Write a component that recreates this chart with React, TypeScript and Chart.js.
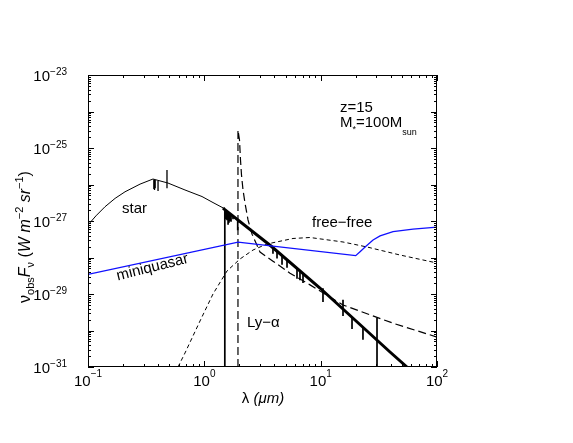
import React, { useEffect, useRef } from "react";
import { Chart, registerables } from "chart.js";

Chart.register(...registerables);

const FONT = '"Liberation Sans", Arial, Helvetica, sans-serif';

// Axis ranges and tick labels
const xDecades = [0.1, 1, 10, 100];
const xTickExp = ["\u22121", "0", "1", "2"];
const yLabelExp = [-23, -25, -27, -29, -31];

// Star continuum (thin solid) : wavelength (µm), log10 flux
const starLambda = [0.1, 0.117, 0.14, 0.171, 0.208, 0.28, 0.362, 0.487, 0.682, 0.955, 1.164, 1.447];
const starLogF = [-27.11, -26.86, -26.61, -26.38, -26.2, -25.99, -25.85, -25.96, -26.15, -26.33, -26.48, -26.64];
// small absorption features on the star curve
const starSpikeLambda = [0.368, 0.373, 0.378, 0.4, 0.4775];
const starSpikeTop = [-25.86, -25.87, -25.88, -25.9, -25.6];
const starSpikeBottom = [-26.12, -26.15, -26.1, -26.18, -26.1];

// Thick solid line (redshifted spectrum)
const thickLambda = [1.447, 1.5, 3.74, 9.86, 39.45, 55.2];
const thickLogF = [-26.644, -26.687, -27.685, -28.836, -30.589, -31.0];
// vertical features on the thick line
const spikeLambda = [1.5, 1.53, 1.566, 1.6, 1.63, 1.66, 1.696, 1.764, 1.936, 3.89, 4.215, 4.654, 5.137, 6.26, 6.64, 7.05, 10.47, 15.56, 18.6, 23.1, 30.5];
const spikeTop = [-26.687, -26.7, -26.73, -26.75, -26.775, -26.8, -26.82, -26.86, -26.96, -27.73, -27.82, -27.94, -28.06, -28.29, -28.36, -28.43, -28.84, -29.16, -29.64, -29.91, -29.66];
const spikeBottom = [-31, -26.95, -26.98, -27.1, -27.05, -27.0, -27.02, -26.95, -27.25, -27.9, -28.03, -28.2, -28.28, -28.58, -28.62, -28.7, -29.22, -29.6, -29.96, -30.25, -31];

// Ly-alpha line (long dashes)
const lyaLambda = [1.946, 1.946, 2.006, 2.046, 2.087, 2.15, 2.237, 2.374, 2.57, 3.01, 3.89, 5.45, 8.1, 15.56, 41.9, 100];
const lyaLogF = [-31, -24.51, -24.78, -25.33, -25.74, -26.15, -26.51, -26.97, -27.36, -27.85, -28.1, -28.43, -28.75, -29.3, -29.8, -30.18];

// Free-free (short dashes)
const ffLambda = [0.594, 0.682, 0.918, 1.187, 1.566, 2.026, 2.621, 3.457, 5.783, 8.1, 15.56, 25.03, 48.1, 100];
const ffLogF = [-31.0, -30.616, -29.74, -29.0, -28.37, -28.041, -27.795, -27.63, -27.479, -27.452, -27.575, -27.712, -27.932, -28.151];

// Miniquasar (blue)
const mqLambda = [0.1, 1.95, 20, 21.8, 24.5, 28.2, 32.4, 41.9, 62.2, 100];
const mqLogF = [-28.46, -27.58, -27.95, -27.84, -27.69, -27.52, -27.41, -27.29, -27.22, -27.17];

function pts(l: number[], f: number[]) {
  return l.map((x, i) => ({ x, y: Math.pow(10, f[i]) }));
}
function spikes(l: number[], top: number[], bot: number[]) {
  const out: any[] = [];
  l.forEach((x, i) => {
    out.push({ x, y: Math.pow(10, top[i]) }, { x, y: Math.pow(10, bot[i]) }, { x, y: null });
  });
  return out;
}

type Seg = { t: string; size: number; dy?: number; italic?: boolean };

function richWidth(ctx: CanvasRenderingContext2D, segs: Seg[]) {
  let w = 0;
  for (const s of segs) {
    ctx.font = `${s.italic ? "italic " : ""}${s.size}px ${FONT}`;
    w += ctx.measureText(s.t).width;
  }
  return w;
}
function drawRich(ctx: CanvasRenderingContext2D, segs: Seg[], x: number, y: number, align: "left" | "center" | "right") {
  const w = richWidth(ctx, segs);
  let cx = align === "left" ? x : align === "center" ? x - w / 2 : x - w;
  ctx.textAlign = "left";
  ctx.textBaseline = "alphabetic";
  for (const s of segs) {
    ctx.font = `${s.italic ? "italic " : ""}${s.size}px ${FONT}`;
    ctx.fillText(s.t, cx, y + (s.dy || 0));
    cx += ctx.measureText(s.t).width;
  }
}

const decorPlugin = {
  id: "decor",
  afterDraw(chart: any) {
    const ctx: CanvasRenderingContext2D = chart.ctx;
    const xs = chart.scales.x;
    const ys = chart.scales.y;
    const { left, right, top, bottom } = chart.chartArea;
    ctx.save();
    ctx.strokeStyle = "#000";
    ctx.fillStyle = "#000";
    ctx.lineWidth = 1;
    ctx.setLineDash([]);
    ctx.strokeRect(left + 0.5, top + 0.5, right - left - 1, bottom - top - 1);

    const major = 6, minor = 3;
    ctx.beginPath();
    // x ticks
    for (let d = 0; d < xDecades.length; d++) {
      const base = xDecades[d];
      const px = Math.round(xs.getPixelForValue(base)) + 0.5;
      ctx.moveTo(px, bottom); ctx.lineTo(px, bottom - major);
      ctx.moveTo(px, top); ctx.lineTo(px, top + major);
      if (d < xDecades.length - 1) {
        for (let m = 2; m <= 9; m++) {
          const p = Math.round(xs.getPixelForValue(base * m)) + 0.5;
          ctx.moveTo(p, bottom); ctx.lineTo(p, bottom - minor);
          ctx.moveTo(p, top); ctx.lineTo(p, top + minor);
        }
      }
    }
    // y ticks
    for (let e = -31; e <= -23; e++) {
      const base = Math.pow(10, e);
      const py = Math.round(ys.getPixelForValue(base)) + 0.5;
      ctx.moveTo(left, py); ctx.lineTo(left + major, py);
      ctx.moveTo(right, py); ctx.lineTo(right - major, py);
      if (e < -23) {
        for (let m = 2; m <= 9; m++) {
          const p = Math.round(ys.getPixelForValue(base * m)) + 0.5;
          ctx.moveTo(left, p); ctx.lineTo(left + minor, p);
          ctx.moveTo(right, p); ctx.lineTo(right - minor, p);
        }
      }
    }
    ctx.stroke();

    // x tick labels
    xDecades.forEach((v, i) => {
      const px = xs.getPixelForValue(v);
      drawRich(ctx, [{ t: "10", size: 15 }, { t: xTickExp[i], size: 10, dy: -9 }], px, bottom + 19, "center");
    });
    // y tick labels
    yLabelExp.forEach((e) => {
      const py = ys.getPixelForValue(Math.pow(10, e));
      drawRich(ctx, [{ t: "10", size: 15 }, { t: "\u2212" + Math.abs(e), size: 10, dy: -6.5 }], 67, py + 6, "right");
    });

    // axis titles
    drawRich(ctx, [{ t: "\u03bb ", size: 15 }, { t: "(\u03bcm)", size: 15, italic: true }], 263, 403, "center");
    ctx.save();
    ctx.translate(30, 237);
    ctx.rotate(-Math.PI / 2);
    drawRich(ctx, [
      { t: "\u03bd", size: 16 },
      { t: "obs", size: 11, dy: 4 },
      { t: "F", size: 16, italic: true },
      { t: "\u03bd", size: 11, dy: 4 },
      { t: " (", size: 16 },
      { t: "W m", size: 16, italic: true },
      { t: "\u22122", size: 11, dy: -7 },
      { t: " sr", size: 16, italic: true },
      { t: "\u22121", size: 11, dy: -7 },
      { t: ")", size: 16 },
    ], 0, 0, "center");
    ctx.restore();

    // annotations
    drawRich(ctx, [{ t: "star", size: 15 }], 122, 213, "left");
    drawRich(ctx, [{ t: "free\u2212free", size: 15 }], 312, 226.5, "left");
    drawRich(ctx, [{ t: "Ly\u2212\u03b1", size: 15 }], 247, 327, "left");
    drawRich(ctx, [{ t: "z=15", size: 15 }], 340, 111.5, "left");
    drawRich(ctx, [
      { t: "M", size: 15 },
      { t: "*", size: 9, dy: 5 },
      { t: "=100M", size: 15 },
      { t: "sun", size: 9, dy: 8 },
    ], 340, 126.5, "left");
    ctx.save();
    ctx.translate(152.4, 267.5);
    ctx.rotate((-14 * Math.PI) / 180);
    ctx.font = `15px ${FONT}`;
    ctx.textAlign = "center";
    ctx.textBaseline = "middle";
    ctx.fillText("miniquasar", 0, 0);
    ctx.restore();

    ctx.restore();
  },
};

export default function App() {
  const ref = useRef<HTMLCanvasElement | null>(null);
  useEffect(() => {
    if (!ref.current) return;
    const line = (data: any[], color: string, width: number, dash: number[] = []) => ({
      data,
      showLine: true,
      borderColor: color,
      backgroundColor: color,
      borderWidth: width,
      borderDash: dash,
      pointRadius: 0,
      pointHoverRadius: 0,
      fill: false,
      tension: 0,
      spanGaps: false,
    });
    const chart = new Chart(ref.current, {
      type: "scatter",
      data: {
        datasets: [
          line(pts(mqLambda, mqLogF), "#1010ff", 1.3),
          line(pts(ffLambda, ffLogF), "#000", 1, [4, 3]),
          line(pts(lyaLambda, lyaLogF), "#000", 1.2, [8, 4]),
          line(pts(starLambda, starLogF), "#000", 1),
          line(spikes(starSpikeLambda, starSpikeTop, starSpikeBottom), "#000", 1.3),
          line(spikes(spikeLambda, spikeTop, spikeBottom), "#000", 1.7),
          line(pts(thickLambda, thickLogF), "#000", 3),
        ] as any,
      },
      options: {
        responsive: false,
        maintainAspectRatio: false,
        animation: false,
        devicePixelRatio: 1,
        events: [],
        layout: { padding: { left: 88, top: 75, right: 136, bottom: 76 } },
        plugins: { legend: { display: false }, tooltip: { enabled: false } },
        scales: {
          x: { type: "logarithmic", min: 0.1, max: 100, display: false },
          y: { type: "logarithmic", min: 1e-31, max: 1e-23, display: false },
        },
      } as any,
      plugins: [decorPlugin],
    });
    return () => chart.destroy();
  }, []);
  return (
    <div style={{ position: "absolute", left: 0, top: 0, width: 573, height: 443, background: "#fff" }}>
      <canvas ref={ref} width={573} height={443} style={{ display: "block" }} />
    </div>
  );
}
